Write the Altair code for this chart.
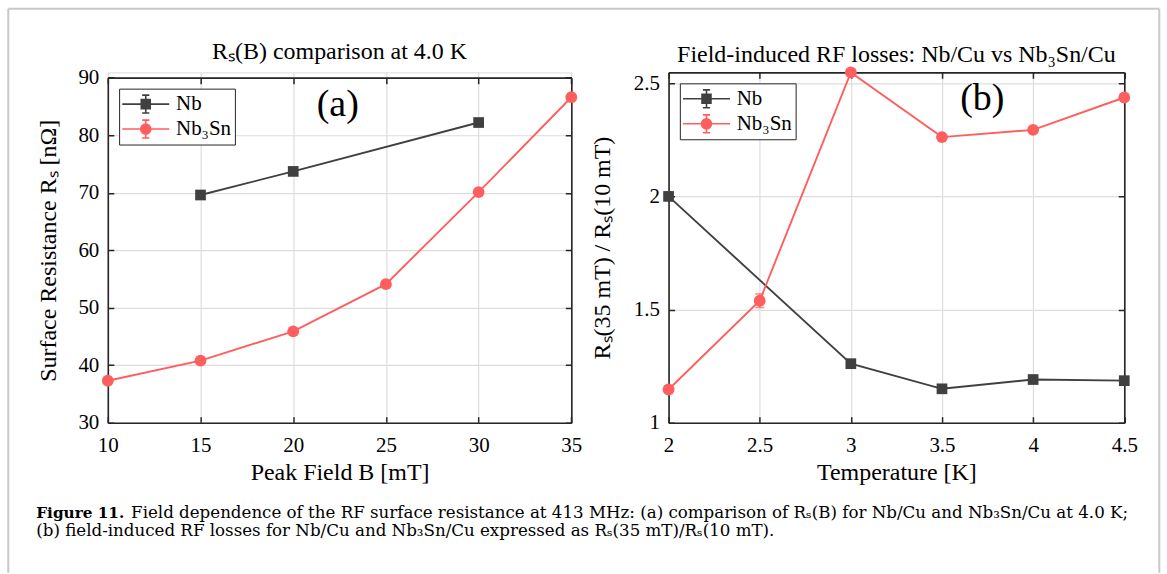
import altair as alt
import pandas as pd

FONT = "Liberation Serif"
CAPFONT = "DejaVu Serif"
NB = "Nb"
NBSN = "Nb₃Sn"
SERIES = [NB, NBSN]
COLORS = ["#404040", "#ff5e5e"]
GRID = "#dddddd"
DARK = "#262626"
FRAME = "#c8c8c8"

# ---------------- data: panel (a) ----------------
a_b_nb = [15, 20, 30]
a_rs_nb = [69.6, 73.7, 82.2]
a_b_sn = [10, 15, 20, 25, 30, 35]
a_rs_sn = [37.3, 40.8, 45.9, 54.1, 70.1, 86.6]
a_xticks = [10, 15, 20, 25, 30, 35]
a_yticks = [30, 40, 50, 60, 70, 80, 90]

# ---------------- data: panel (b) ----------------
b_t_nb = [2.0, 3.0, 3.5, 4.0, 4.5]
b_r_nb = [2.0, 1.261, 1.150, 1.191, 1.186]
b_e_nb = [0, 0, 0, 0, 0]
b_t_sn = [2.0, 2.5, 3.0, 3.5, 4.0, 4.5]
b_r_sn = [1.147, 1.539, 2.548, 2.262, 2.294, 2.437]
b_e_sn = [0, 0.03, 0, 0, 0, 0]
b_xticks = [2, 2.5, 3, 3.5, 4, 4.5]
b_yticks = [1, 1.5, 2, 2.5]

title_a = "Rₛ(B) comparison at 4.0 K"
title_b = "Field-induced RF losses: Nb/Cu vs Nb₃Sn/Cu"
xtitle_a = "Peak Field B [mT]"
ytitle_a = "Surface Resistance Rₛ [nΩ]"
xtitle_b = "Temperature [K]"
ytitle_b = "Rₛ(35 mT) / Rₛ(10 mT)"
cap_bold = "Figure 11."
cap_line1 = ("Field dependence of the RF surface resistance at 413 MHz: (a) comparison of "
             "Rₛ(B) for Nb/Cu and Nb₃Sn/Cu at 4.0 K;")
cap_line2 = ("(b) field-induced RF losses for Nb/Cu and Nb₃Sn/Cu expressed as "
             "Rₛ(35 mT)/Rₛ(10 mT).")


def frame(xs, ys, series, errs=None):
    rows = []
    for k, (s, xv, yv) in enumerate(zip(series, xs, ys)):
        for i, (a, b) in enumerate(zip(xv, yv)):
            e = errs[k][i] if errs else 0
            rows.append({"series": s, "x": a, "y": b, "lo": b - e, "hi": b + e, "e": e})
    return pd.DataFrame(rows)


df_a = frame([a_b_nb, a_b_sn], [a_rs_nb, a_rs_sn], SERIES)
df_b = frame([b_t_nb, b_t_sn], [b_r_nb, b_r_sn], SERIES, [b_e_nb, b_e_sn])

# legend symbols: line + marker + error bar
SQ = ("M-1.1,0H3.1M0.6,-0.4H1.4V0.4H0.6ZM1,-0.8V0.8M0.68,-0.8H1.32M0.68,0.8H1.32")
CI = ("M-1.1,0H3.1M0.55,0A0.45,0.45,0,1,1,1.45,0A0.45,0.45,0,1,1,0.55,0Z"
      "M1,-0.8V0.8M0.68,-0.8H1.32M0.68,0.8H1.32")


def text_layer(txt, x, y, size, align="center", weight="normal", font=FONT):
    return alt.Chart(pd.DataFrame({"t": [txt]})).mark_text(
        font=font, fontSize=size, fontWeight=weight, align=align,
        baseline="alphabetic", color="black").encode(
        x=alt.value(x), y=alt.value(y), text="t:N")


def panel(df, xdom, ydom, yrange, W, H, top_off, xticks, yticks, xtitle, ytitle,
          title, title_y, tag, tag_xy, ytp, leg_xy, extra=()):
    xs = alt.Scale(domain=xdom, nice=False, zero=False)
    ys = alt.Scale(domain=ydom, nice=False, zero=False, range=yrange)
    L = yrange[0] - yrange[1]
    cscale = alt.Scale(domain=SERIES, range=COLORS)

    def X(axis=None, f="x"):
        return alt.X(f"{f}:Q", scale=xs, axis=axis)

    def Y(axis=None, f="y"):
        return alt.Y(f"{f}:Q", scale=ys, axis=axis)

    common_lab = dict(labelFont=FONT, labelFontSize=21, labelColor="black",
                      labelFlush=False, labelOverlap=False, ticks=False,
                      titleFont=FONT, titleFontSize=24, titleFontWeight="normal",
                      titleColor="black", domain=True, domainColor=DARK, domainWidth=1.6,
                      grid=True, gridColor=GRID, gridWidth=1.2, format="~r")
    xaxis = alt.Axis(orient="bottom", values=xticks, labelPadding=12, title=xtitle,
                     titlePadding=5, **common_lab)
    yaxis = alt.Axis(orient="left", values=yticks, labelPadding=9, title=ytitle,
                     titlePadding=ytp, **common_lab)
    common_t = dict(labels=False, ticks=False, title=None, domain=True, domainColor=DARK,
                    domainWidth=1.6, grid=True, gridColor=DARK, gridWidth=1.5)
    xaxis2 = alt.Axis(orient="top", offset=-top_off, values=xticks,
                      gridDash=[6, L - 12, 6, 600], **common_t)
    yaxis2 = alt.Axis(orient="right", values=yticks,
                      gridDash=[6, W - 12, 6, 600], **common_t)

    base = alt.Chart(df)
    d_nb = df[df.series == NB]
    d_sn = df[df.series == NBSN]
    line_nb = alt.Chart(d_nb).mark_line(strokeWidth=1.9, color=COLORS[0]).encode(
        x=X(xaxis), y=Y(yaxis))
    line_sn = alt.Chart(d_sn).mark_line(strokeWidth=1.9, color=COLORS[1]).encode(
        x=X(), y=Y())
    axes2 = base.mark_point(opacity=0).encode(x=X(xaxis2), y=Y(yaxis2))
    sq = alt.Chart(d_nb).mark_square(size=115, color=COLORS[0], opacity=1).encode(
        x=X(), y=Y())
    ci = alt.Chart(d_sn).mark_circle(size=140, color=COLORS[1], opacity=1).encode(
        x=X(), y=Y())
    layers = [line_nb, axes2, line_sn, sq, ci]
    for s, c in zip(SERIES, COLORS):
        edf = df[(df.e > 0) & (df.series == s)]
        if len(edf):
            layers.append(alt.Chart(edf).mark_rule(strokeWidth=1.6, color=c).encode(
                x=X(), y=Y(f="lo"), y2="hi:Q"))
            for f in ("lo", "hi"):
                layers.append(alt.Chart(edf).mark_tick(orient="horizontal", size=9,
                                                       thickness=1.6, color=c).encode(
                    x=X(), y=Y(f=f)))
    LEG = alt.Legend(title=None, orient="none", legendX=leg_xy[0], legendY=leg_xy[1],
                     padding=3, rowPadding=0,
                     labelFont=FONT, labelFontSize=21, labelColor="black", labelOffset=29,
                     symbolSize=502, symbolStrokeWidth=1.6, strokeColor=DARK,
                     fillColor="white", symbolOpacity=1, labelLimit=300)
    leg = base.mark_point(filled=True, opacity=0).encode(
        x=X(), y=Y(),
        fill=alt.Fill("series:N", scale=cscale, legend=LEG),
        stroke=alt.Stroke("series:N", scale=cscale, legend=LEG),
        shape=alt.Shape("series:N", scale=alt.Scale(domain=SERIES, range=[SQ, CI]), legend=LEG))
    layers.append(leg)
    tagc = alt.Chart(pd.DataFrame({"t": [tag]})).mark_text(
        font=FONT, fontSize=38, align="center", baseline="middle", color="black").encode(
        x=alt.value(tag_xy[0]), y=alt.value(tag_xy[1]), text="t:N")
    layers.append(tagc)
    layers.append(text_layer(title, W / 2, title_y, 24))
    layers.extend(extra)
    return alt.layer(*layers).properties(width=W, height=H).resolve_axis(
        x="independent", y="independent")


# decorations for panel (a): outer frame and caption (pixel offsets from panel (a) origin)
one = pd.DataFrame({"k": [0]})
ox, oy = 106.7, 70.7
fr_l = alt.Chart(one).mark_rule(color=FRAME, strokeWidth=2).encode(
    x=alt.value(7 - ox), y=alt.value(7 - oy), y2=alt.value(572 - oy))
fr_t = alt.Chart(one).mark_rule(color=FRAME, strokeWidth=2).encode(
    x=alt.value(7 - ox), x2=alt.value(1160 - ox), y=alt.value(7 - oy))
fr_r = alt.Chart(one).mark_rule(color=FRAME, strokeWidth=2).encode(
    x=alt.value(1160 - ox), y=alt.value(7 - oy), y2=alt.value(572 - oy))
c0 = text_layer(cap_bold, 35 - ox, 516.7 - oy, 15.3, align="left", weight="bold", font=CAPFONT)
c1 = text_layer(cap_line1, 130 - ox, 516.7 - oy, 16.7, align="left", font=CAPFONT)
c2 = text_layer(cap_line2, 35 - ox, 535.5 - oy, 16.7, align="left", font=CAPFONT)

A = panel(df_a, [10, 35], [30, 90], [351, 5.3], 464.3, 351, 5.3, a_xticks, a_yticks,
          xtitle_a, ytitle_a, title_a, 57 - oy, "(a)", (230.3, 32.3), 17, (11.3, 16.3),
          extra=(fr_l, fr_t, fr_r, c0, c1, c2))
B = panel(df_b, [2, 4.5], [1, 2.548], [351, 0], 456.5, 351, 0, b_xticks, b_yticks,
          xtitle_b, ytitle_b, title_b, 60.7 - oy, "(b)", (314.3, 26.3), 19, (11.3, 11))

chart = alt.hconcat(A, B, spacing=96.7, bounds="flush").resolve_scale(
    fill="independent", stroke="independent", shape="independent"
).resolve_legend(
    fill="independent", stroke="independent", shape="independent"
).properties(
    padding={"left": 6, "top": 6, "right": 6, "bottom": 1}
).configure_view(stroke="transparent").configure(background="white")

chart.save("out.html", embed_options={"renderer": "svg", "actions": False})
